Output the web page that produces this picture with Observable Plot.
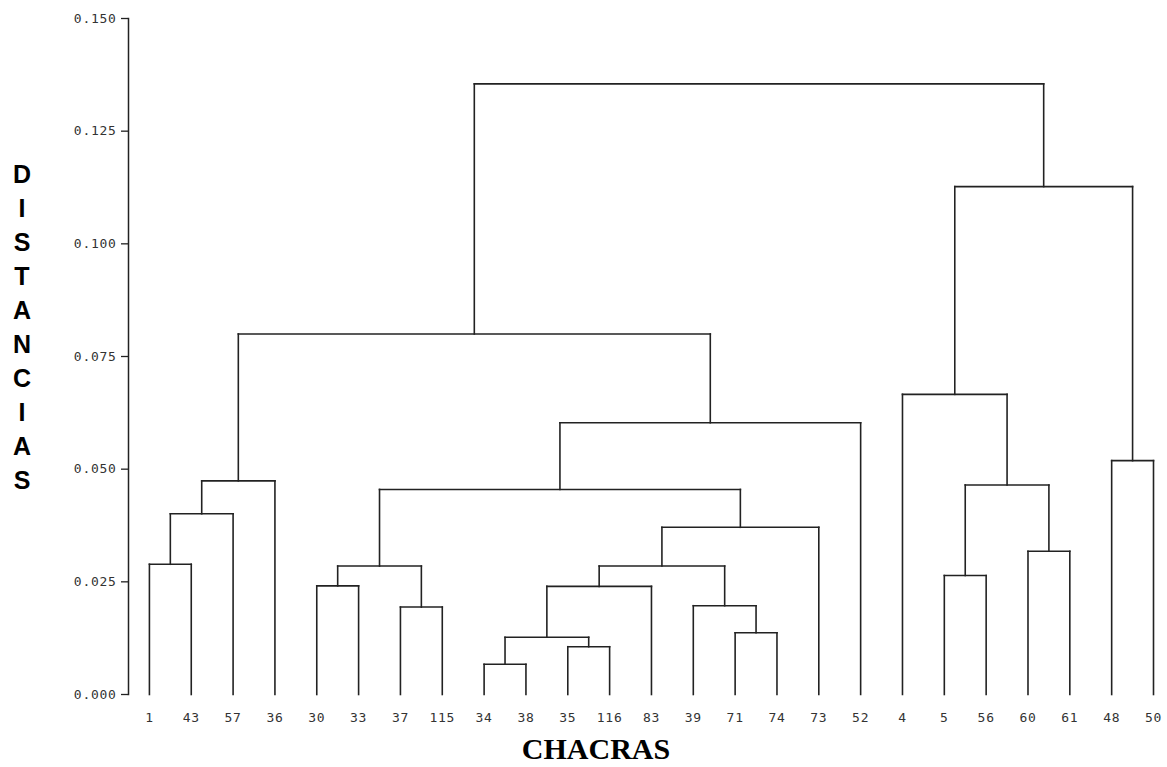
<!DOCTYPE html>
<html>
<head>
<meta charset="utf-8">
<script src="https://cdn.jsdelivr.net/npm/d3@7"></script>
<script src="https://cdn.jsdelivr.net/npm/@observablehq/plot@0.6"></script>
<style>
  body { margin: 0; background: #fff; }
  #wrap { position: relative; width: 1167px; height: 767px; overflow: hidden; }
  #wrap svg text { letter-spacing: 0.7px; }
  #ylab { position: absolute; left: 0; top: 157px; width: 44px; text-align: center;
          font: bold 25px "Liberation Sans", Arial, sans-serif; line-height: 34px; color: #000; }
  #xlab { position: absolute; left: 446px; top: 734px; width: 300px; text-align: center;
          font: bold 30px "Liberation Serif", "Times New Roman", serif; line-height: 30px; color: #000; }
</style>
</head>
<body>
<div id="wrap">
  <div id="chart"></div>
  <div id="ylab"></div>
  <div id="xlab">CHACRAS</div>
</div>
<script>
// Leaf labels (chacras) in dendrogram order
const leafLabels = ["1","43","57","36","30","33","37","115","34","38","35","116","83",
                    "39","71","74","73","52","4","5","56","60","61","48","50"];
// Merges: indices < 25 are leaves, >= 25 refer to earlier merges (25 + k)
const mergeLeft   = [8, 10, 25, 14, 6, 13, 27, 4, 19, 31, 32, 0, 21, 34, 36, 35, 33, 39, 23, 40, 18, 42, 45, 46];
const mergeRight  = [9, 11, 26, 15, 7, 28, 12, 5, 20, 30, 29, 1, 22, 16, 2, 38, 37, 3, 24, 17, 41, 44, 43, 47];
const mergeHeight = [0.0067, 0.0106, 0.0127, 0.0137, 0.0194, 0.0197, 0.0240, 0.0241, 0.0264,
                     0.0285, 0.0285, 0.0289, 0.0318, 0.0371, 0.0401, 0.0455, 0.0465, 0.0474,
                     0.0519, 0.0603, 0.0666, 0.0800, 0.1127, 0.1355];
const yTicks = [0, 0.025, 0.05, 0.075, 0.1, 0.125, 0.15];
const axisTitle = "DISTANCIAS";

document.getElementById("ylab").innerHTML = axisTitle.split("").join("<br>");

// Build node positions and link segments from the merge table
const nodeX = leafLabels.map((_, i) => i);
const nodeY = leafLabels.map(() => 0);
const segments = [];
mergeLeft.forEach((a, k) => {
  const b = mergeRight[k], h = mergeHeight[k];
  segments.push({x1: nodeX[a], y1: nodeY[a], x2: nodeX[a], y2: h});
  segments.push({x1: nodeX[b], y1: nodeY[b], x2: nodeX[b], y2: h});
  segments.push({x1: nodeX[a], y1: h, x2: nodeX[b], y2: h});
  nodeX.push((nodeX[a] + nodeX[b]) / 2);
  nodeY.push(h);
});

const chart = Plot.plot({
  width: 1167,
  height: 767,
  marginTop: 18,
  marginBottom: 73,
  marginLeft: 128,
  marginRight: 14,
  style: {fontFamily: "'DejaVu Sans Mono', monospace", fontSize: "13px", color: "#333", background: "#fff"},
  x: {domain: [-0.5, leafLabels.length - 1], axis: null},
  y: {domain: [0, 0.15], axis: null},
  marks: [
    Plot.frame({anchor: "left", stroke: "#222", strokeWidth: 1.5}),
    Plot.axisY({ticks: yTicks, tickFormat: d3.format(".3f"), tickSize: 7, tickPadding: 5,
                label: null, stroke: "#222", strokeWidth: 1.3}),
    Plot.axisX({ticks: d3.range(leafLabels.length), tickFormat: i => leafLabels[i],
                tickSize: 0, tickPadding: 18, label: null}),
    Plot.link(segments, {x1: "x1", y1: "y1", x2: "x2", y2: "y2",
                         stroke: "#222", strokeWidth: 1.6, strokeLinecap: "square"})
  ]
});
document.getElementById("chart").appendChild(chart);
</script>
</body>
</html>
